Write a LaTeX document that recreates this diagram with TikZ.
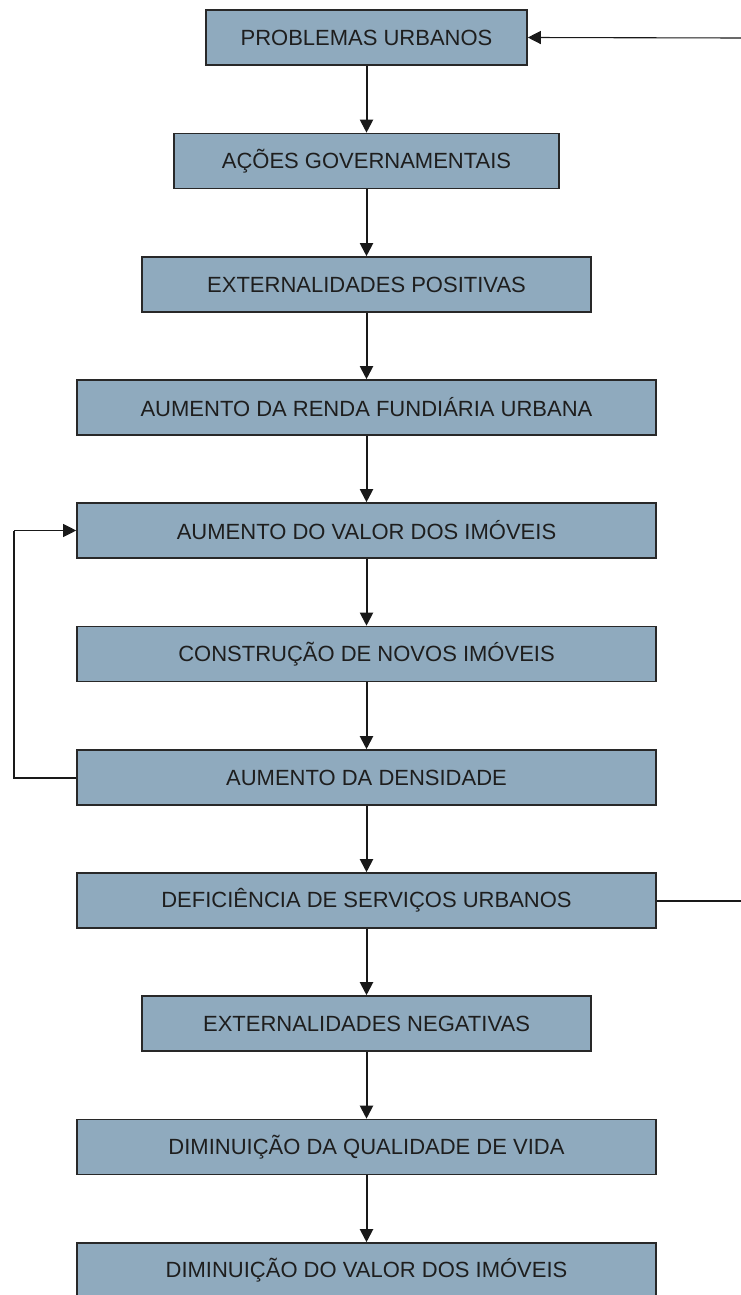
\documentclass[tikz,border=0pt]{standalone}
\usepackage{fontspec}
\setmainfont{Liberation Sans}
\usetikzlibrary{arrows.meta}
\definecolor{boxfill}{RGB}{143,170,190}
\definecolor{boxline}{RGB}{40,40,40}
\definecolor{txt}{RGB}{30,30,30}
\begin{document}
\begin{tikzpicture}[x=1pt,y=1pt,
  box/.style={draw=boxline, line width=1.6pt, fill=boxfill, minimum height=55pt, inner sep=0pt,
    text=txt, font=\fontsize{22}{26}\selectfont},
  wbox/.style={box, minimum width=579pt},
  conn/.style={draw=black!90, line width=2pt, -{Triangle[length=13pt,width=13pt]}},
  thin/.style={draw=black!90, line width=1.1pt}]
\useasboundingbox (0,0) rectangle (741,-1295);
\node[box, minimum width=321pt] (n1) at (366.5,-37.5) {PROBLEMAS URBANOS};
\node[box, minimum width=385pt] (n2) at (366.5,-161) {AÇÕES GOVERNAMENTAIS};
\node[box, minimum width=449pt] (n3) at (366.5,-284.5) {EXTERNALIDADES POSITIVAS};
\node[wbox] (n4) at (366.5,-407.5) {AUMENTO DA RENDA FUNDIÁRIA URBANA};
\node[wbox] (n5) at (366.5,-530.5) {AUMENTO DO VALOR DOS IMÓVEIS};
\node[wbox] (n6) at (366.5,-654) {CONSTRUÇÃO DE NOVOS IMÓVEIS};
\node[wbox] (n7) at (366.5,-777.5) {AUMENTO DA DENSIDADE};
\node[wbox] (n8) at (366.5,-900.5) {DEFICIÊNCIA DE SERVIÇOS URBANOS};
\node[box, minimum width=449pt] (n9) at (366.5,-1023.5) {EXTERNALIDADES NEGATIVAS};
\node[wbox] (n10) at (366.5,-1147) {DIMINUIÇÃO DA QUALIDADE DE VIDA};
\node[wbox] (n11) at (366.5,-1270.5) {DIMINUIÇÃO DO VALOR DOS IMÓVEIS};
\foreach \a/\b in {n1/n2,n2/n3,n3/n4,n4/n5,n5/n6,n6/n7,n7/n8,n8/n9,n9/n10,n10/n11}
  \draw[conn] (\a.south) -- (\b.north);
\coordinate (fbtop) at (741,-38);
\coordinate (fbbot) at (741,-900.5);
\coordinate (loopx) at (14,0);
\draw[thin, -{Triangle[length=13pt,width=13pt]}] (fbtop) -- (n1.east);
\draw[draw=black!90, line width=2pt] (n8.east) -- (fbbot);
\draw[draw=black!90, line width=2pt] (n7.west) -| (loopx |- n5.west);
\draw[thin, -{Triangle[length=13pt,width=13pt]}] (loopx |- n5.west) -- (n5.west);
\end{tikzpicture}
\end{document}
